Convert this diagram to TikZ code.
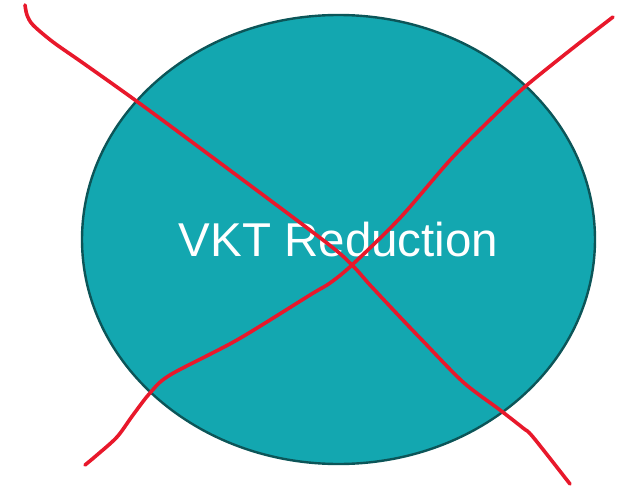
\documentclass[tikz,border=0pt]{standalone}
\usepackage{fontspec}
\setmainfont{Liberation Sans}
\usetikzlibrary{shapes.geometric}
\definecolor{tealfill}{HTML}{13A7B0}
\definecolor{tealedge}{HTML}{0C5558}
\definecolor{markred}{HTML}{E8182B}
\tikzset{
  blob/.style={ellipse, draw=tealedge, fill=tealfill, line width=2.4pt, inner sep=0pt,
    minimum width=513pt, minimum height=449pt, text=white,
    font=\fontsize{47.5}{50}\selectfont},
  strike/.style={draw=markred, line width=3.6pt, line cap=round, line join=round}
}
\begin{document}
\begin{tikzpicture}[x=1pt,y=-1pt]
\useasboundingbox (0,0) rectangle (625,488);
\node[blob] (vkt) at (338.5,239.5) {VKT Reduction};
\draw[strike] plot[smooth, tension=0.5] coordinates {
  (25,5) (27,15) (33,25) (53,42) (83,63) (135,100) (200,148) (323,240)
  (352,265) (370,285) (400,317) (422,340) (463,382) (500,410) (523,428)
  (533,437) (570,484)};
\draw[strike] plot[smooth, tension=0.5] coordinates {
  (613,17) (573,48) (527,85) (500,110) (452,158) (400,218) (352,265)
  (330,283) (310,295) (237,340) (170,375) (150,393) (133,415) (117,437)
  (97,455) (85,465)};
\end{tikzpicture}
\end{document}
